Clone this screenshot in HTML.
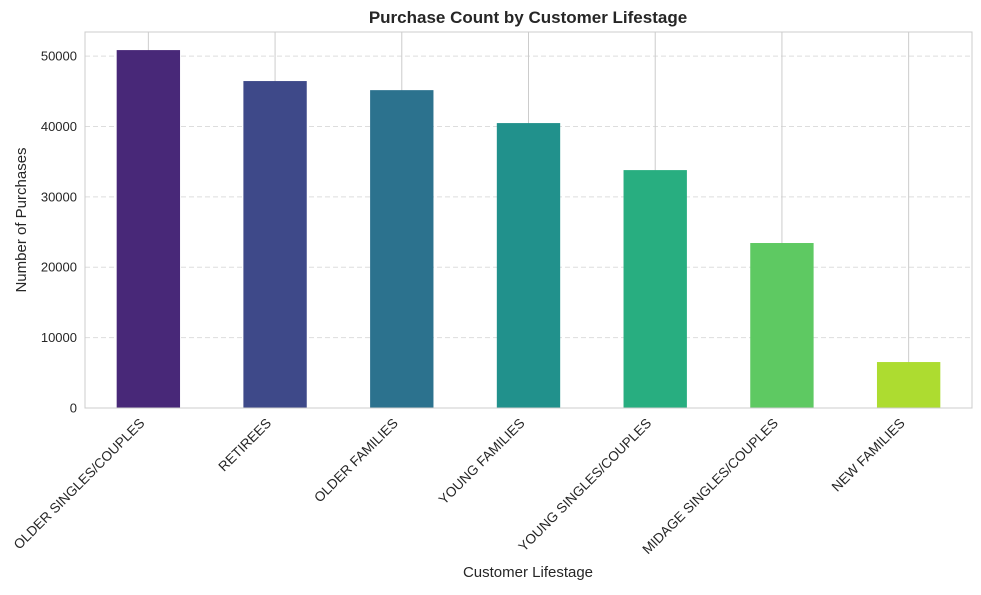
<!DOCTYPE html>
<html><head><meta charset="utf-8"><style>
body{margin:0;background:#fff;font-family:"Liberation Sans",Arial,sans-serif;}
</style></head><body>
<svg id="chart" width="981" height="590" xmlns="http://www.w3.org/2000/svg" font-family="Liberation Sans, Arial, sans-serif">
<rect width="981" height="590" fill="#fff"/>
<g id="grid"></g>
<g id="bars"></g>
<rect x="85" y="32" width="887" height="376" fill="none" stroke="#cccccc" stroke-width="1"/>
<g id="yticks"></g>
<g id="xticks"></g>
<text x="528" y="23" text-anchor="middle" font-size="17" font-weight="bold" fill="#262626">Purchase Count by Customer Lifestage</text>
<text x="528" y="577" text-anchor="middle" font-size="15" fill="#262626">Customer Lifestage</text>
<text transform="translate(26,220) rotate(-90)" text-anchor="middle" font-size="15" fill="#262626">Number of Purchases</text>
</svg>
<script>
const categories=["OLDER SINGLES/COUPLES","RETIREES","OLDER FAMILIES","YOUNG FAMILIES","YOUNG SINGLES/COUPLES","MIDAGE SINGLES/COUPLES","NEW FAMILIES"];
const values=[50850,46450,45160,40480,33800,23440,6530];
const colors=["#482878","#3e4989","#2c728e","#21918c","#28ae80","#5ec962","#addc30"];
const yTicks=[0,10000,20000,30000,40000,50000];
const NS="http://www.w3.org/2000/svg";
const L=85,R=972,T=32,B=408,yMax=53420;
const y=v=>B-(v/yMax)*(B-T);
const band=(R-L)/categories.length;
const xc=i=>L+band*(i+0.5);
function mk(tag,attrs,parent){const e=document.createElementNS(NS,tag);for(const k in attrs)e.setAttribute(k,attrs[k]);parent.appendChild(e);return e;}
const grid=document.getElementById('grid'),bars=document.getElementById('bars'),yt=document.getElementById('yticks'),xt=document.getElementById('xticks');
yTicks.forEach(t=>{
 const g=mk('line',{x1:L,x2:R,y1:y(t),y2:y(t),stroke:'#dddddd','stroke-dasharray':'5,3','stroke-width':1},grid);
 
 
 const tx=mk('text',{x:L-8,y:y(t)+4.5,'text-anchor':'end','font-size':13,fill:'#262626'},yt);
 tx.textContent=t;
 
 
});
categories.forEach((c,i)=>{
 const x=xc(i);
 const g=mk('line',{x1:x,x2:x,y1:T,y2:B,stroke:'#cccccc','stroke-width':1},grid);
 
 
 const w=band*0.5;
 const r=mk('rect',{x:x-w/2,y:y(values[i]),width:w,height:B-y(values[i]),fill:colors[i]},bars);
 
 
 const tx=mk('text',{transform:`translate(${x-3},${B+16}) rotate(-45)`,'text-anchor':'end','font-size':13.6,fill:'#262626'},xt);
 tx.textContent=c;
 
 
});
</script>
</body></html>
